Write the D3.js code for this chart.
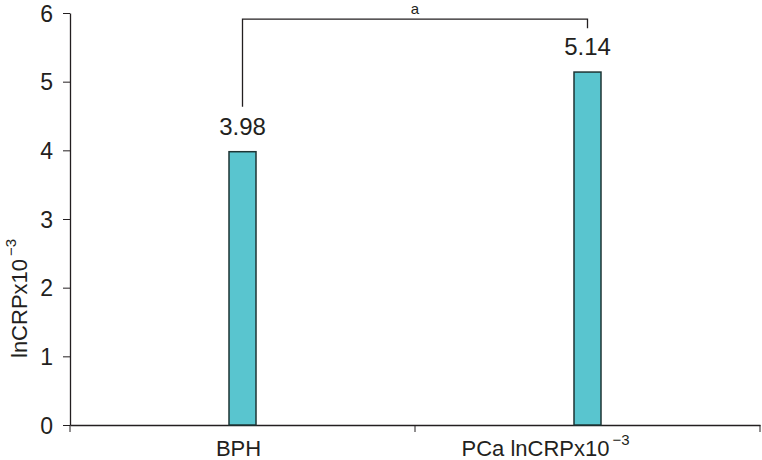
<!DOCTYPE html>
<html>
<head>
<meta charset="utf-8">
<script src="https://cdn.jsdelivr.net/npm/d3@7"></script>
<style>
  body { margin: 0; background: #fff; }
  text { font-family: Arial, "Liberation Sans", sans-serif; fill: #231f20; }
</style>
</head>
<body>
<div id="vis"></div>
<script>
// data
let groups = ["BPH", "PCa"];
let values = [3.98, 5.14];
let valueLabels = ["3.98", "5.14"];
let yTicks = [0, 1, 2, 3, 4, 5, 6];

let margin = { top: 13, left: 70, right: 2, bottom: 35 },
  width = 762 - margin.left - margin.right,
  height = 460 - margin.top - margin.bottom;

let svg = d3.select("#vis")
  .append("svg")
  .attr("width", 762)
  .attr("height", 460)
  .append("g")
  .attr("transform", `translate(${margin.left},${margin.top})`);

let x = d3.scaleBand().domain(groups).range([0, width]);
let y = d3.scaleLinear().domain([0, 6]).range([height, 0]);
let barW = 27;

// y axis
let yAxis = svg.append("g")
  .call(d3.axisLeft(y).tickValues(yTicks).tickFormat(d3.format("d"))
    .tickSize(7).tickPadding(10).tickSizeOuter(0));
yAxis.selectAll("text").style("font-size", "23px").attr("dy", "0.36em");

// x axis
let xAxis = svg.append("g")
  .attr("transform", `translate(0,${height})`)
  .call(d3.axisBottom(x).tickSize(0).tickSizeOuter(0));
xAxis.selectAll(".tick").remove();

svg.append("g").selectAll("line")
  .data([0, width / 2, width])
  .join("line")
  .attr("x1", d => d).attr("x2", d => d)
  .attr("y1", height).attr("y2", height + 7)
  .attr("stroke", "#231f20");

svg.selectAll(".domain").attr("stroke", "#231f20").attr("stroke-width", 1.3);
svg.selectAll(".tick line").attr("stroke", "#231f20");

// x labels
let xl = svg.append("g").selectAll("text")
  .data(groups)
  .join("text")
  .attr("x", d => x(d) + x.bandwidth() / 2 - (d === "PCa" ? 42 : 4))
  .attr("y", height + 31)
  .attr("text-anchor", "middle")
  .style("font-size", "22px");
xl.filter(d => d === "BPH").text("BPH");
xl.filter(d => d === "PCa").each(function () {
  let t = d3.select(this);
  t.append("tspan").text("PCa lnCRPx10");
  t.append("tspan").attr("dy", -11).attr("dx", 3).style("font-size", "15px").text("\u22123");
});

// bars
svg.append("g").selectAll("rect")
  .data(values)
  .join("rect")
  .attr("x", (d, i) => x(groups[i]) + x.bandwidth() / 2 - barW / 2)
  .attr("y", d => y(d))
  .attr("width", barW)
  .attr("height", d => height - y(d))
  .attr("fill", "#59c5cf")
  .attr("stroke", "#1e3535")
  .attr("stroke-width", 1.5);

// value labels
svg.append("g").selectAll("text")
  .data(values)
  .join("text")
  .attr("x", (d, i) => x(groups[i]) + x.bandwidth() / 2)
  .attr("y", d => y(d) - 17)
  .attr("text-anchor", "middle")
  .style("font-size", "24px")
  .text((d, i) => valueLabels[i]);

// significance bracket
let cx0 = x(groups[0]) + x.bandwidth() / 2,
  cx1 = x(groups[1]) + x.bandwidth() / 2,
  brTop = y(5.91);
svg.append("path")
  .attr("d", `M${cx0},${y(values[0]) - 45}V${brTop}H${cx1}V${brTop + 9}`)
  .attr("fill", "none")
  .attr("stroke", "#231f20")
  .attr("stroke-width", 1.3);
svg.append("text")
  .attr("x", (cx0 + cx1) / 2)
  .attr("y", brTop - 5)
  .attr("text-anchor", "middle")
  .style("font-size", "15px")
  .text("a");

// y label
let yl = svg.append("text")
  .attr("transform", `translate(${-43},${345}) rotate(-90)`)
  .attr("text-anchor", "start")
  .style("font-size", "22px");
yl.append("tspan").text("lnCRPx10");
yl.append("tspan").attr("dy", -11).attr("dx", 3).style("font-size", "15px").text("\u22123");
</script>
</body>
</html>
